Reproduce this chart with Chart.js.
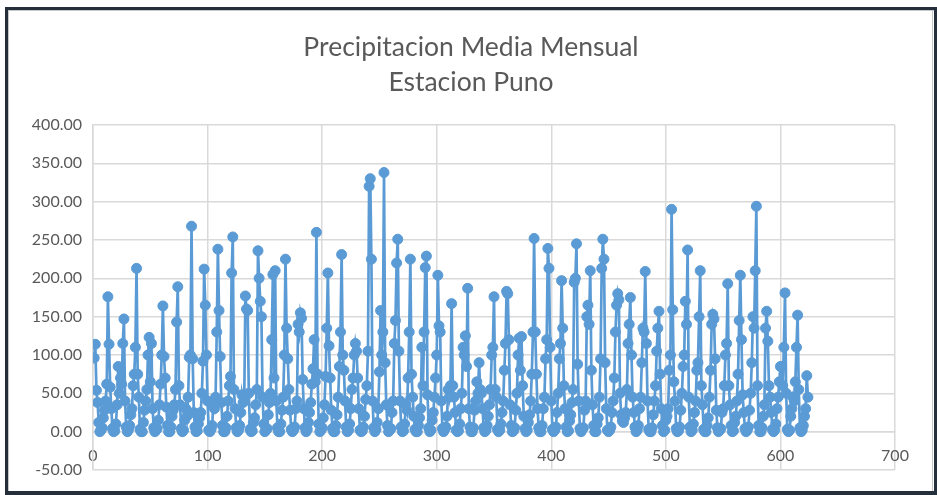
<!DOCTYPE html>
<html>
<head>
<meta charset="utf-8">
<script src="https://cdn.jsdelivr.net/npm/chart.js@4/dist/chart.umd.min.js"></script>
<style>
html,body{margin:0;padding:0;background:#fff;}
canvas{display:block;}
</style>
</head>
<body>
<canvas id="c" width="937" height="495"></canvas>
<script>
// Chart texts
const titleLines = ['Precipitacion Media Mensual', 'Estacion Puno'];
// Axis settings (tick values)
const yMin = -50, yMax = 400, yStep = 50;
const xMin = 0, xMax = 700, xStep = 100;

// Monthly precipitation (mm), month index 1..624, one row per year
const y01 = [96,114,54,38,12,0,2,5,18,28,40,62];
const y02 = [176,114,58,30,4,0,1,10,35,85,50,70];
const y03 = [62,115,147,40,6,0,3,8,22,30,60,75];
const y04 = [110,213,75,45,3,0,0,12,28,40,55,100];
const y05 = [123,65,115,30,5,0,2,4,15,35,62,100];
const y06 = [164,98,70,32,8,0,0,6,20,28,35,55];
const y07 = [143,189,60,35,4,0,2,15,30,20,45,97];
const y08 = [100,268,95,25,6,0,1,10,18,25,50,92];
const y09 = [212,165,100,40,2,0,3,8,35,30,45,130];
const y10 = [238,158,98,38,8,0,0,5,20,40,60,72];
const y11 = [207,254,55,30,5,0,2,8,25,48,38,40];
const y12 = [177,160,158,50,3,0,1,12,18,35,55,236];
const y13 = [200,170,150,45,10,0,2,4,22,38,50,120];
const y14 = [205,70,210,40,5,0,0,10,28,45,100,225];
const y15 = [135,95,55,28,3,0,2,6,30,40,140,130];
const y16 = [155,148,68,30,5,0,3,12,25,38,62,82];
const y17 = [120,65,260,75,10,0,2,5,18,35,72,135];
const y18 = [207,112,70,28,4,0,0,8,22,45,85,130];
const y19 = [231,100,80,40,6,0,2,10,30,55,70,100];
const y20 = [115,105,70,30,2,0,1,6,20,42,60,105];
const y21 = [320,330,225,40,5,0,3,12,30,78,158,100];
const y22 = [130,338,90,35,8,0,2,4,25,40,115,145];
const y23 = [220,251,105,40,6,0,1,10,35,28,70,130];
const y24 = [225,75,45,20,3,0,0,8,18,30,110,60];
const y25 = [130,214,229,48,5,0,2,15,25,45,70,100];
const y26 = [204,138,130,40,4,0,3,6,20,55,45,60];
const y27 = [167,60,45,25,2,0,1,10,30,50,110,100];
const y28 = [125,85,187,30,6,0,0,5,28,40,65,50];
const y29 = [90,55,50,30,5,0,2,8,20,35,55,100];
const y30 = [110,176,55,45,3,0,2,10,25,40,80,115];
const y31 = [183,180,120,35,8,0,1,5,28,50,100,122];
const y32 = [80,124,60,20,4,0,2,12,22,40,75,130];
const y33 = [252,130,75,30,5,0,0,8,30,45,95,120];
const y34 = [239,213,110,40,3,0,2,6,25,50,95,115];
const y35 = [197,135,60,30,6,0,1,14,22,38,55,195];
const y36 = [200,245,88,40,4,0,3,5,28,40,150,165];
const y37 = [140,210,80,35,8,0,0,10,18,45,95,213];
const y38 = [251,225,90,30,2,0,2,6,25,40,70,130];
const y39 = [165,180,172,50,22,14,12,18,25,55,115,140];
const y40 = [175,100,45,25,6,0,2,8,30,45,90,135];
const y41 = [130,209,115,40,3,0,0,5,22,40,60,105];
const y42 = [135,157,75,30,8,0,2,15,20,30,80,100];
const y43 = [290,159,65,40,4,0,1,6,28,50,85,100];
const y44 = [170,140,237,45,6,0,2,10,25,40,80,90];
const y45 = [150,210,60,35,3,0,0,8,18,45,80,140];
const y46 = [153,147,95,28,5,0,2,4,25,30,60,100];
const y47 = [115,193,60,35,8,0,1,12,20,40,75,145];
const y48 = [204,120,48,25,4,0,2,6,28,50,90,150];
const y49 = [135,210,294,60,8,0,0,5,20,35,135,157];
const y50 = [118,60,45,25,3,0,2,10,30,45,65,85];
const y51 = [85,60,110,181,50,3,0,2,20,30,45,40];
const y52 = [65,110,152,55,5,0,2,8,20,30,73,45];

const precip = [].concat(y01,y02,y03,y04,y05,y06,y07,y08,y09,y10,y11,y12,y13,
  y14,y15,y16,y17,y18,y19,y20,y21,y22,y23,y24,y25,y26,y27,y28,y29,y30,y31,
  y32,y33,y34,y35,y36,y37,y38,y39,y40,y41,y42,y43,y44,y45,y46,y47,y48,y49,
  y50,y51,y52);
const points = precip.map((v, i) => ({x: i + 1, y: v}));

const blue = '#5B9BD5';
const grid = '#d9d9d9';
const txt = '#595959';

const framePlugin = {
  id: 'frame',
  beforeDraw(chart) {
    const ctx = chart.ctx;
    ctx.save();
    ctx.fillStyle = '#ffffff';
    ctx.fillRect(0, 0, chart.width, chart.height);
    ctx.fillStyle = '#252f3b';
    ctx.fillRect(5, 7, 932, 3);     // top
    ctx.fillRect(5, 7, 3, 488);     // left
    ctx.fillRect(934, 7, 3, 488);   // right
    ctx.fillRect(5, 491, 932, 4);   // bottom
    ctx.fillStyle = '#c8c8c8';
    ctx.fillRect(8, 10, 926, 1);
    ctx.fillRect(8, 10, 1, 481);
    ctx.fillRect(932, 10, 1, 481);
    ctx.restore();
  },
  afterDraw(chart) {
    const ctx = chart.ctx;
    ctx.save();
    ctx.fillStyle = txt;
    ctx.font = 'normal 26.5px Lato';
    ctx.textAlign = 'center';
    ctx.textBaseline = 'middle';
    ctx.fillText(titleLines[0], 471, 47);
    ctx.fillText(titleLines[1], 471, 82);
    ctx.restore();
  }
};

new Chart(document.getElementById('c'), {
  type: 'scatter',
  data: {
    datasets: [{
      data: points,
      showLine: true,
      borderColor: blue,
      backgroundColor: blue,
      borderWidth: 2.7,
      pointRadius: 5,
      pointBorderWidth: 1,
      pointBackgroundColor: blue,
      pointBorderColor: blue,
      tension: 0
    }]
  },
  options: {
    responsive: false,
    animation: false,
    layout: { padding: { left: 0, right: 42, top: 125, bottom: 25 } },
    plugins: {
      legend: { display: false },
      tooltip: { enabled: false },
      title: { display: false }
    },
    scales: {
      x: {
        type: 'linear',
        min: xMin, max: xMax,
        position: { y: 0 },
        grid: { color: grid, lineWidth: 1.5, drawTicks: false },
        border: { color: grid, width: 1.5 },
        ticks: {
          stepSize: xStep,
          color: txt,
          padding: 15,
          font: { family: 'Lato', size: 16 },
          maxRotation: 0,
          callback: v => String(v)
        }
      },
      y: {
        min: yMin, max: yMax,
        grid: { color: grid, lineWidth: 1.5, drawTicks: false },
        border: { color: grid, width: 1.5 },
        afterFit(scale) { scale.width = 93; },
        ticks: {
          stepSize: yStep,
          color: txt,
          padding: 11,
          font: { family: 'Lato', size: 16 },
          callback: v => Number(v).toFixed(2)
        }
      }
    }
  },
  plugins: [framePlugin]
});
</script>
</body>
</html>
